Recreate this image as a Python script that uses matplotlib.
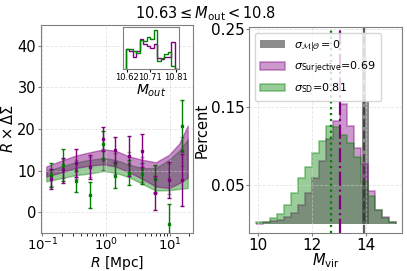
import numpy as np
import matplotlib
matplotlib.use('Agg')
import matplotlib.pyplot as plt

# --- left panel: R x DeltaSigma profiles ---
r_pts = [0.134, 0.21, 0.34, 0.55, 0.88, 1.4, 2.3, 3.6, 5.9, 9.6, 15.5]

purple_y = [8.0, 10.1, 11.8, 10.9, 17.6, 15.0, 13.5, 14.8, 4.6, 7.7, 7.8]
purple_e = [2.4, 3.0, 3.3, 2.8, 3.0, 3.0, 4.8, 4.0, 4.1, 4.3, 6.2]
green_y = [9.0, 11.4, 7.4, 4.1, 16.3, 8.8, 9.5, 9.3, 8.0, -2.9, 20.8]
green_e = [2.9, 3.9, 2.5, 3.1, 3.2, 3.0, 3.0, 2.5, 3.3, 4.8, 6.1]
gray_y = [8.4, 10.5, 10.2, 10.9, 12.6, 11.7, 11.7, 10.3, 8.0, 8.0, 14.6]
gray_e = [2.0, 2.2, 2.3, 2.4, 2.5, 2.6, 2.8, 3.0, 3.2, 3.6, 3.5]

r_band = [0.115, 0.2, 0.33, 0.55, 0.9, 1.4, 2.3, 3.7, 6.0, 9.7, 14.0, 19.0]
purple_hi = [11.0, 12.4, 13.6, 14.4, 15.1, 14.8, 13.4, 12.6, 12.0, 13.8, 16.5, 20.8]
purple_lo = [8.6, 9.6, 10.6, 11.2, 11.5, 11.0, 9.6, 8.0, 6.2, 5.8, 7.0, 8.3]
green_hi = [9.9, 11.0, 12.0, 12.6, 13.0, 12.6, 11.4, 10.6, 10.6, 12.6, 14.8, 17.5]
green_lo = [7.4, 8.2, 8.9, 9.3, 9.9, 9.5, 8.4, 6.8, 5.2, 5.3, 5.6, 5.8]

# --- inset: M_out distributions ---
mout_edges = [10.616, 10.6295, 10.643, 10.6565, 10.67, 10.6835, 10.697, 10.7105,
              10.724, 10.7375, 10.751, 10.7645, 10.778, 10.7915, 10.805, 10.8185]
mout_green = [62, 62, 55, 47, 88, 85, 97, 90, 118, 25, 32, 45, 50, 8, 0]
mout_purple = [60, 55, 35, 55, 92, 75, 70, 65, 77, 32, 30, 35, 35, 82, 0]

# --- right panel: M_vir distributions ---
mvir_edges = [9.91, 10.17, 10.43, 10.69, 10.95, 11.21, 11.47, 11.73, 11.99, 12.25, 12.51,
              12.77, 13.03, 13.29, 13.55, 13.81, 14.07, 14.33, 14.59, 14.85, 15.11]
mvir_green = [0.002, 0.002, 0.007, 0.012, 0.024, 0.039, 0.058, 0.073, 0.091, 0.106,
              0.125, 0.124, 0.114, 0.103, 0.086, 0.053, 0.035, 0.017, 0.007, 0.002]
mvir_purple = [0.0, 0.002, 0.003, 0.005, 0.008, 0.014, 0.024, 0.039, 0.058, 0.080,
               0.108, 0.132, 0.153, 0.125, 0.097, 0.076, 0.042, 0.018, 0.009, 0.002]
gray_edges = [13.87, 14.0, 14.11]
mvir_gray = [0.243, 0.157]

med_gray, med_purple, med_green = 13.95, 13.06, 12.72

fig = plt.figure(figsize=(4.07, 2.71), dpi=100)
ax1 = fig.add_axes([0.1007, 0.1402, 0.3735, 0.7675])
ax2 = fig.add_axes([0.6125, 0.1402, 0.3752, 0.7600])

for ax in (ax1, ax2):
    ax.grid(True, color='lightgray', ls='--', lw=0.6, alpha=0.6)
    for s in ax.spines.values():
        s.set_color('gray')
    ax.tick_params(labelsize=10.5, length=2, color='gray', pad=1.5)
ax2.tick_params(labelsize=11)
ax1.tick_params(axis='x', labelsize=9.5, pad=1)

ax1.fill_between(r_band, green_lo, green_hi, color='green', alpha=0.4, lw=1)
ax1.fill_between(r_band, purple_lo, purple_hi, color='purple', alpha=0.45, lw=1)
ax1.errorbar(r_pts, green_y, yerr=green_e, fmt='s', ms=1.8, color='green', capsize=1.5, elinewidth=1)
ax1.errorbar(r_pts, gray_y, yerr=gray_e, fmt='s', ms=1.8, color='#333333', alpha=0.45, capsize=1.5, elinewidth=1)
ax1.errorbar(r_pts, purple_y, yerr=purple_e, fmt='s', ms=1.8, color='purple', capsize=1.5, elinewidth=1)
ax1.set_xscale('log')
ax1.set_xlim(0.095, 23)
ax1.set_ylim(-5, 45)
ax1.set_yticks([0, 10, 20, 30, 40])
ax1.set_xlabel(r'$R$ [Mpc]', fontsize=10, labelpad=0)
ax1.set_ylabel(r'$R \times \Delta\Sigma$', fontsize=10.5, labelpad=1)

axin = fig.add_axes([0.303, 0.7454, 0.1376, 0.156])
axin.stairs(mout_purple, mout_edges, color='purple', lw=1)
axin.stairs(mout_green, mout_edges, color='green', lw=1)
axin.set_xlim(10.607, 10.823)
axin.set_ylim(0, 128)
axin.set_yticks([])
axin.set_xticks([10.62, 10.71, 10.81])
axin.set_xticklabels(['10.62', '10.71', '10.81'])
axin.tick_params(labelsize=6, length=2, pad=1)
for s in axin.spines.values():
    s.set_color('gray')
axin.set_xlabel(r'$M_{out}$', fontsize=10, labelpad=0)

ax2.stairs(mvir_gray, gray_edges, fill=True, color='gray', alpha=0.9, label=r'$\sigma_{\mathcal{M}|\mathcal{O}}=0$')
ax2.stairs(mvir_purple, mvir_edges, fill=True, facecolor='purple', edgecolor='purple', lw=1.2, alpha=0.4,
           label=r'$\sigma_{\rm Surjective}$=0.69')
ax2.stairs(mvir_green, mvir_edges, fill=True, facecolor='green', edgecolor='green', lw=1.2, alpha=0.4,
           label=r'$\sigma_{\rm SD}$=0.81')
ax2.axvline(med_gray, color='#333333', ls='--', lw=1.6, alpha=0.8)
ax2.axvline(med_purple, color='purple', ls='-.', lw=1.6)
ax2.axvline(med_green, color='green', ls=':', lw=1.6)
ax2.set_xlim(9.665, 15.35)
ax2.set_ylim(-0.012, 0.252)
ax2.set_yticks([0.05, 0.15, 0.25])
ax2.set_xticks([10, 12, 14])
ax2.set_xlabel(r'$M_{\rm vir}$', fontsize=10.5, labelpad=-1)
ax2.set_ylabel('Percent', fontsize=10.5, labelpad=1)
ax2.legend(loc='upper left', fontsize=8, handlelength=2.2, borderpad=0.5, labelspacing=0.5)

fig.suptitle(r'$10.63 \leq M_{\rm out} < 10.8$', fontsize=10.5, x=0.505, y=0.985)

fig.savefig('out.png', dpi=100)
